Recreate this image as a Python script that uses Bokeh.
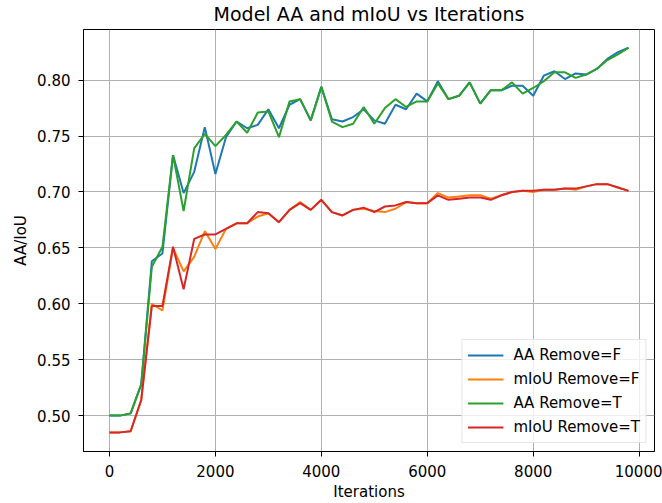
from bokeh.plotting import figure
from bokeh.models import FixedTicker, NumeralTickFormatter, Range1d, Title
from bokeh.embed import file_html
from bokeh.resources import INLINE

iterations = [0, 200, 400, 600, 800, 1000, 1200, 1400, 1600, 1800,
              2000, 2200, 2400, 2600, 2800, 3000, 3200, 3400, 3600, 3800,
              4000, 4200, 4400, 4600, 4800, 5000, 5200, 5400, 5600, 5800,
              6000, 6200, 6400, 6600, 6800, 7000, 7200, 7400, 7600, 7800,
              8000, 8200, 8400, 8600, 8800, 9000, 9200, 9400, 9600, 9800]

aa_remove_f = [0.500, 0.500, 0.502, 0.528, 0.638, 0.645, 0.733, 0.699, 0.718, 0.758,
               0.716, 0.749, 0.763, 0.757, 0.760, 0.774, 0.757, 0.778, 0.783, 0.764,
               0.794, 0.765, 0.763, 0.767, 0.774, 0.764, 0.761, 0.778, 0.774, 0.788,
               0.781, 0.799, 0.783, 0.786, 0.798, 0.779, 0.791, 0.791, 0.795, 0.795,
               0.786, 0.804, 0.808, 0.801, 0.806, 0.805, 0.810, 0.819, 0.825, 0.829]

miou_remove_f = [0.485, 0.485, 0.486, 0.514, 0.600, 0.594, 0.650, 0.629, 0.642, 0.665,
                 0.649, 0.667, 0.672, 0.672, 0.678, 0.681, 0.673, 0.684, 0.691, 0.684,
                 0.693, 0.682, 0.679, 0.684, 0.685, 0.683, 0.682, 0.685, 0.691, 0.690,
                 0.690, 0.699, 0.695, 0.696, 0.697, 0.697, 0.694, 0.697, 0.700, 0.701,
                 0.700, 0.702, 0.702, 0.703, 0.702, 0.705, 0.707, 0.707, 0.704, 0.701]

aa_remove_t = [0.500, 0.500, 0.502, 0.528, 0.633, 0.651, 0.733, 0.683, 0.739, 0.752,
               0.741, 0.751, 0.763, 0.753, 0.771, 0.772, 0.749, 0.781, 0.783, 0.764,
               0.794, 0.763, 0.758, 0.761, 0.776, 0.761, 0.775, 0.783, 0.776, 0.781,
               0.781, 0.797, 0.783, 0.786, 0.798, 0.779, 0.791, 0.791, 0.798, 0.788,
               0.793, 0.799, 0.807, 0.807, 0.802, 0.805, 0.810, 0.818, 0.823, 0.829]

miou_remove_t = [0.485, 0.485, 0.486, 0.514, 0.598, 0.598, 0.651, 0.613, 0.658, 0.662,
                 0.662, 0.667, 0.672, 0.672, 0.682, 0.681, 0.673, 0.684, 0.690, 0.684,
                 0.693, 0.682, 0.679, 0.684, 0.686, 0.682, 0.687, 0.688, 0.691, 0.690,
                 0.690, 0.697, 0.693, 0.694, 0.695, 0.695, 0.693, 0.697, 0.700, 0.701,
                 0.701, 0.702, 0.702, 0.703, 0.703, 0.705, 0.707, 0.707, 0.704, 0.701]

x_ticks = [0, 2000, 4000, 6000, 8000, 10000]
y_ticks = [0.50, 0.55, 0.60, 0.65, 0.70, 0.75, 0.80]

title_text = "Model AA and mIoU vs Iterations"

series = [
    ("AA Remove=F", aa_remove_f, "#1f77b4"),
    ("mIoU Remove=F", miou_remove_f, "#ff7f0e"),
    ("AA Remove=T", aa_remove_t, "#2ca02c"),
    ("mIoU Remove=T", miou_remove_t, "#d62728"),
]

FONT = "DejaVu Sans"

p = figure(width=662, height=503, output_backend="svg", toolbar_location=None,
           x_range=Range1d(-490, 10290), y_range=Range1d(0.4679, 0.8453),
           min_border_left=83, min_border_right=8, min_border_top=29,
           min_border_bottom=50)

p.title.text = title_text
p.title.align = "center"
p.title.text_font = FONT
p.title.text_font_size = "19px"
p.title.text_font_style = "normal"
p.title.text_color = "#000000"
p.title.standoff = 0

# thin blank spacer between the title and the frame
spacer = Title(text=" ", text_font_size="2px", standoff=1)
p.add_layout(spacer, "above")

for label, vals, color in series:
    p.line(iterations, vals, line_color=color, line_width=2, legend_label=label)

p.outline_line_color = "#000000"
p.outline_line_width = 1
p.background_fill_color = "white"

for ax in (p.xaxis[0], p.yaxis[0]):
    ax.axis_line_color = "#000000"
    ax.major_tick_line_color = "#000000"
    ax.major_tick_out = 5
    ax.major_tick_in = 0
    ax.minor_tick_line_color = None
    ax.major_label_text_font = FONT
    ax.major_label_text_font_size = "15px"
    ax.major_label_text_color = "#000000"
    ax.axis_label_text_font = FONT
    ax.axis_label_text_font_size = "15px"
    ax.axis_label_text_font_style = "normal"
    ax.axis_label_text_color = "#000000"

p.xaxis.ticker = FixedTicker(ticks=x_ticks)
p.yaxis.ticker = FixedTicker(ticks=y_ticks)
p.yaxis.formatter = NumeralTickFormatter(format="0.00")
p.xaxis.axis_label = "Iterations"
p.yaxis.axis_label = "AA/IoU"
p.xaxis.major_label_standoff = 8
p.xaxis.axis_label_standoff = 3
p.yaxis.major_label_standoff = 8
p.yaxis.axis_label_standoff = 4

p.xgrid.ticker = FixedTicker(ticks=x_ticks)
p.ygrid.ticker = FixedTicker(ticks=y_ticks)
p.grid.grid_line_color = "#b0b0b0"
p.grid.grid_line_width = 1

lg = p.legend[0]
lg.location = "bottom_right"
lg.margin = 8
lg.padding = 5
lg.spacing = 4
lg.label_standoff = 10
lg.glyph_width = 36
lg.glyph_height = 20
lg.label_height = 20
lg.label_text_font = FONT
lg.label_text_font_size = "15px"
lg.label_text_color = "#000000"
lg.border_line_color = "#cccccc"
lg.border_line_width = 1
lg.background_fill_color = "white"
lg.background_fill_alpha = 0.8

open("out.html", "w").write(file_html(p, INLINE))
